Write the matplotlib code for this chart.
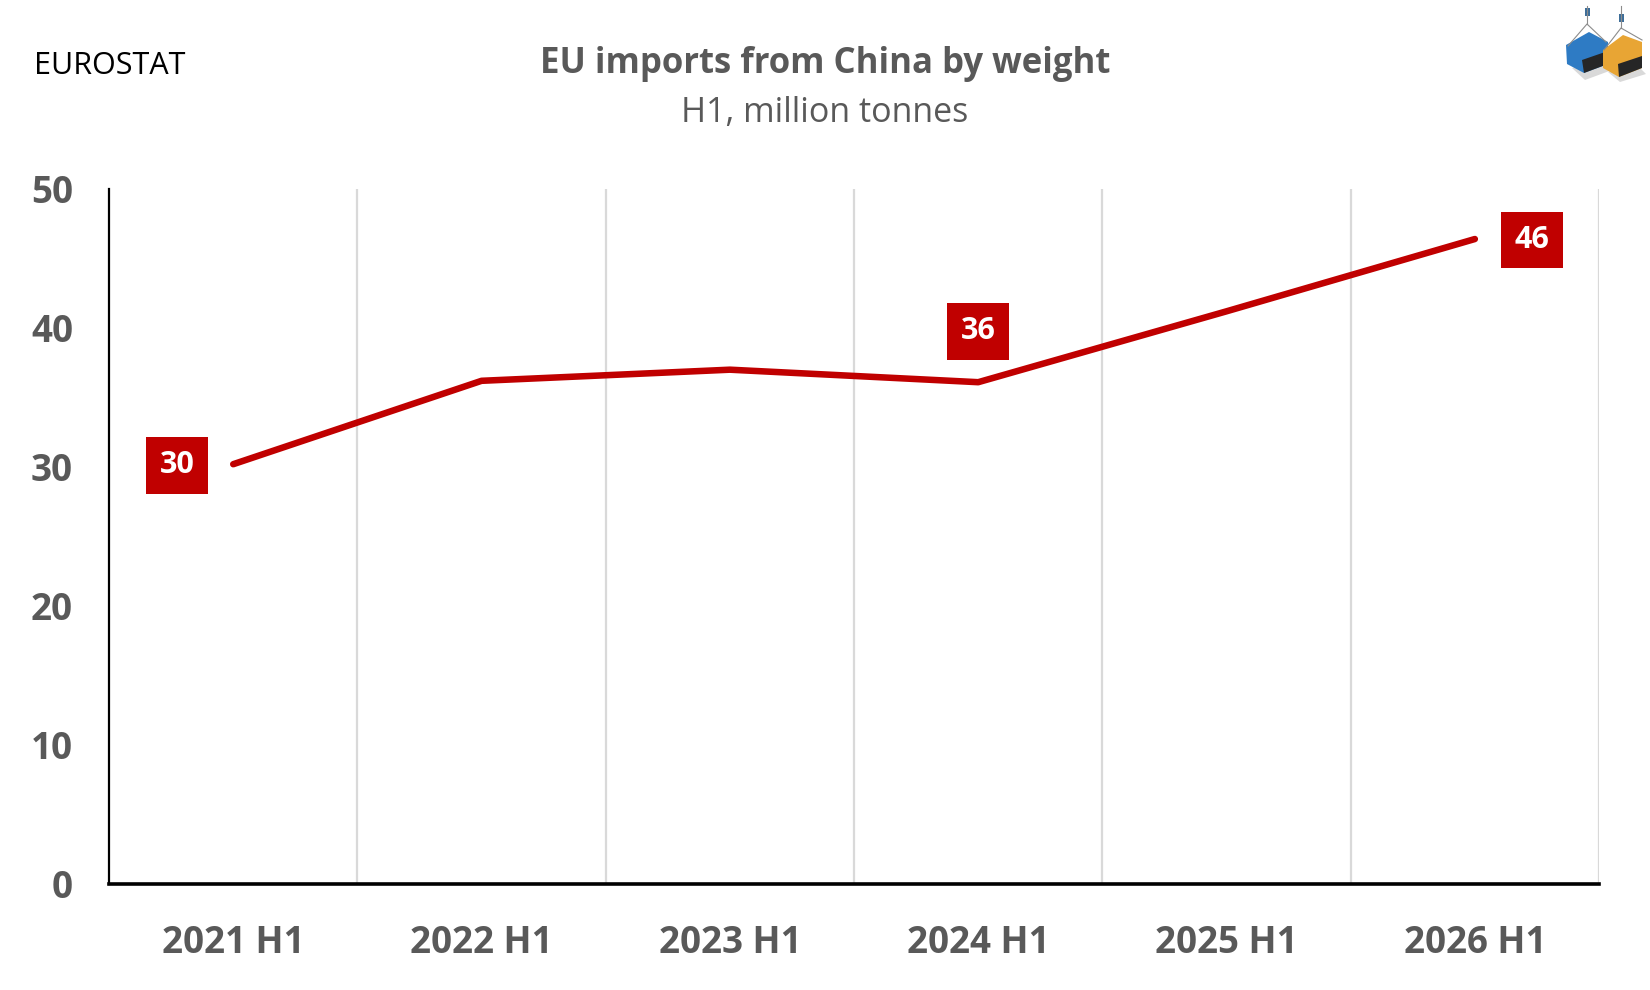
import matplotlib.pyplot as plt
from matplotlib.patches import Polygon
from matplotlib.lines import Line2D

plt.rcParams['font.family'] = ['Open Sans', 'DejaVu Sans']

periods = ["2021 H1", "2022 H1", "2023 H1", "2024 H1", "2025 H1", "2026 H1"]
imports_mt = [30.2, 36.2, 37.0, 36.1, 41.2, 46.4]
# which points get a value box, and where the box sits
label_idx = [0, 3, 5]
label_text = ["30", "36", "46"]
label_side = ["left", "above", "right"]

red = "#C00000"
grey = "#595959"
W, H = 1650, 990

fig = plt.figure(figsize=(16.5, 9.9), dpi=100)
ax = fig.add_axes([0.0661, 0.1071, 0.9030, 0.7020])

x = list(range(len(periods)))
ax.plot(x, imports_mt, color=red, lw=4.7, solid_capstyle="round", zorder=3)

offsets = {"left": (-56, -1), "above": (0, 51), "right": (57, -1)}
for i, txt, side in zip(label_idx, label_text, label_side):
    dx, dy = offsets[side]
    ax.annotate(txt, (x[i], imports_mt[i]), xytext=(dx, dy), textcoords="offset pixels",
                ha="center", va="center", color="white", fontsize=22, fontweight="bold",
                bbox=dict(boxstyle="square,pad=0.44", fc=red, ec="none"), zorder=4)

ax.set_xlim(-0.5, len(periods) - 0.5)
ax.set_ylim(0, 50)
ax.set_yticks(range(0, 51, 10))
ax.set_xticks(x)
ax.set_xticklabels(periods)
ax.set_xticks([v + 0.5 for v in x], minor=True)
ax.grid(True, which="minor", axis="x", color="#D9D9D9", lw=1.6)
ax.tick_params(axis="both", which="both", length=0)
ax.tick_params(axis="x", pad=29)
ax.tick_params(axis="y", pad=26)
for lab in ax.get_xticklabels() + ax.get_yticklabels():
    lab.set_fontsize(26.5)
    lab.set_fontweight("bold")
    lab.set_color(grey)

for s in ["top", "right"]:
    ax.spines[s].set_visible(False)
ax.spines["left"].set_linewidth(1.6)
ax.spines["bottom"].set_linewidth(2.6)
ax.spines["left"].set_color("black")
ax.spines["bottom"].set_color("black")

fig.text(0.5, 0.935, "EU imports from China by weight", ha="center", va="center",
         fontsize=25, fontweight="bold", color=grey)
fig.text(0.5, 0.886, "H1, million tonnes", ha="center", va="center",
         fontsize=24.5, color=grey)
fig.text(0.0206, 0.933, "EUROSTAT", ha="left", va="center", fontsize=22, color="black")


# small container logo, top right (pixel coords, y from top)
def px(pts):
    return [[a / W, 1 - b / H] for a, b in pts]


def poly(pts, fc):
    fig.patches.append(Polygon(px(pts), closed=True, transform=fig.transFigure,
                               fc=fc, ec="none"))


def cable(pts):
    xy = px(pts)
    fig.lines.append(Line2D([p[0] for p in xy], [p[1] for p in xy], transform=fig.transFigure,
                            color="#8C8C8C", lw=0.8))


# shadows
poly([(1572, 68), (1600, 60), (1612, 70), (1585, 80)], "#D9D9D9")
poly([(1608, 72), (1636, 64), (1646, 74), (1620, 82)], "#D9D9D9")
# cables
cable([(1568, 46), (1587, 24), (1606, 42)])
cable([(1587, 24), (1587, 6)])
cable([(1604, 50), (1621, 28), (1642, 40)])
cable([(1621, 28), (1621, 6)])
# blue container
poly([(1566, 45), (1589, 32), (1608, 42), (1608, 64), (1584, 73), (1567, 64)], "#2E7BC4")
poly([(1582, 60), (1608, 51), (1608, 64), (1584, 73)], "#262626")
# orange container
poly([(1603, 50), (1623, 35), (1642, 42), (1642, 68), (1619, 77), (1603, 68)], "#E8A534")
poly([(1618, 64), (1642, 56), (1642, 68), (1619, 77)], "#262626")
# hooks
poly([(1585, 8), (1590, 8), (1590, 16), (1585, 16)], "#3D6E99")
poly([(1619, 14), (1624, 14), (1624, 22), (1619, 22)], "#3D6E99")

fig.savefig("out.png", dpi=100)
